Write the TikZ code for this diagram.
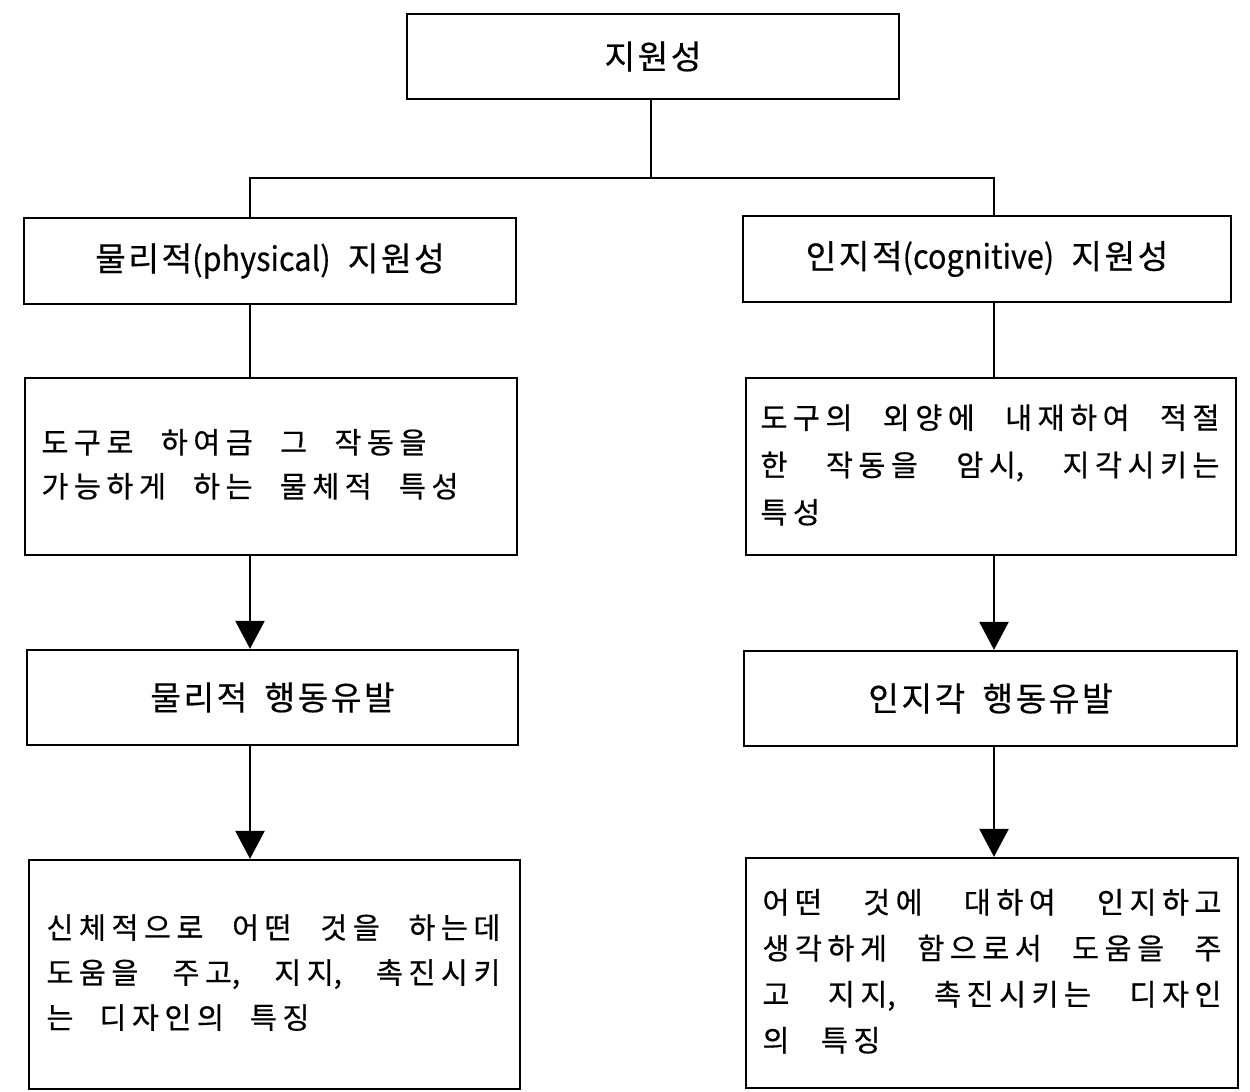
\documentclass[tikz,border=0pt]{standalone}
\usepackage{fontspec}
\usepackage{graphicx}
\usetikzlibrary{arrows.meta}
\newfontfamily\krbody{Noto Sans CJK KR}[FakeBold=0.5]
\newfontfamily\krtitle{Noto Sans CJK KR}[WordSpace=2.3,FakeBold=0.4]
\newdimen\upx \upx=0.75pt
% extra tracking between Hangul syllables
\newdimen\hgk
\newXeTeXintercharclass\hgclass
\newcount\hgc
\hgc="AC00
\loop
  \XeTeXcharclass\hgc=\hgclass
  \ifnum\hgc<"D7A3 \advance\hgc by 1
\repeat
\XeTeXinterchartoks\hgclass\hgclass={\kern\hgk}
\newcommand{\bodyfont}[1]{\krbody\fontsize{22pt}{#1}\selectfont\hgk=5.5\upx\XeTeXinterchartokenstate=1 }
\newcommand{\titlefont}{\krtitle\fontsize{25pt}{30pt}\selectfont\hgk=2.5\upx\XeTeXinterchartokenstate=1 }
\newcommand{\jline}[2]{\makebox[#1\upx][s]{#2}}
\newcommand{\narrow}[1]{\scalebox{0.92}[1]{#1}}
\setlength{\parindent}{0pt}
\begin{document}
\begin{tikzpicture}[x=0.75pt,y=-0.75pt,
  box/.style={draw,line width=1.8pt,rectangle,inner sep=0pt},
  ttl/.style={box,font=\titlefont,align=center},
  body/.style={box,align=left},
  conn/.style={line width=1.1pt},
  arr/.style={conn,-{Triangle[width=22pt,length=21pt]}}]
\fill[white] (0,0) rectangle (1250,1092);
\useasboundingbox (0,0) rectangle (1250,1092);

% title boxes
\node[ttl,minimum width={492*0.75pt},minimum height={85*0.75pt}] (top) at (653,56.5) {지원성};
\node[ttl,minimum width={492*0.75pt},minimum height={86*0.75pt}] (b2L) at (270,261) {물리적\narrow{(physical)} 지원성};
\node[ttl,minimum width={488*0.75pt},minimum height={86*0.75pt}] (b2R) at (987,259) {인지적\narrow{(cognitive)} 지원성};
\node[ttl,minimum width={491*0.75pt},minimum height={95*0.75pt}] (b4L) at (272.5,697.5) {물리적 행동유발};
\node[ttl,minimum width={493*0.75pt},minimum height={95*0.75pt}] (b4R) at (990.5,698.5) {인지각 행동유발};

% body boxes
\node[body,text width={492*0.75pt},minimum height={177*0.75pt},
      font=\bodyfont{33pt}] (b3L) at (271,466.5)
  {\hspace*{16.5\upx}\begin{tabular}{@{}l@{}}
   \jline{385}{도구로\hfill 하여금\hfill 그\hfill 작동을}\\
   \jline{417}{가능하게\hfill 하는\hfill 물체적\hfill 특성}
   \end{tabular}};
\node[body,text width={490*0.75pt},minimum height={177*0.75pt},
      font=\bodyfont{35.5pt}] (b3R) at (991,466.5)
  {\hspace*{14.5\upx}\begin{tabular}{@{}l@{}}
   \jline{459}{도구의\hfill 외양에\hfill 내재하여\hfill 적절}\\
   \jline{459}{한\hfill 작동을\hfill 암시,\hfill 지각시키는}\\
   특성
   \end{tabular}};
\node[body,text width={491*0.75pt},minimum height={229*0.75pt},
      font=\bodyfont{33.75pt}] (b5L) at (274.5,974.5)
  {\hspace*{17.5\upx}\begin{tabular}{@{}l@{}}
   \jline{454}{신체적으로\hfill 어떤\hfill 것을\hfill 하는데}\\
   \jline{454}{도움을\hfill 주고,\hfill 지지,\hfill 촉진시키}\\
   \jline{263}{는\hfill 디자인의\hfill 특징}
   \end{tabular}};
\node[body,text width={492*0.75pt},minimum height={230*0.75pt},
      font=\bodyfont{34.5pt}] (b5R) at (992,973)
  {\hspace*{16.5\upx}\begin{tabular}{@{}l@{}}
   \jline{459}{어떤\hfill 것에\hfill 대하여\hfill 인지하고}\\
   \jline{459}{생각하게\hfill 함으로서\hfill 도움을\hfill 주}\\
   \jline{459}{고\hfill 지지,\hfill 촉진시키는\hfill 디자인}\\
   \jline{118}{의\hfill 특징}
   \end{tabular}};

% connectors
\coordinate (J) at (651,178);
\coordinate (jL) at (250,178);
\coordinate (jR) at (994,178);
\draw[conn] (top.south -| J) -- (J);
\draw[conn] (b2L.north -| jL) -- (jL) -- (jR) -- (b2R.north -| jR);
\draw[conn] (b2L.south -| jL) -- (b3L.north -| jL);
\draw[conn] (b2R.south -| jR) -- (b3R.north -| jR);
\draw[arr] (b3L.south -| jL) -- (b4L.north -| jL);
\draw[arr] (b3R.south -| jR) -- (b4R.north -| jR);
\draw[arr] (b4L.south -| jL) -- (b5L.north -| jL);
\draw[arr] (b4R.south -| jR) -- (b5R.north -| jR);
\end{tikzpicture}
\end{document}
